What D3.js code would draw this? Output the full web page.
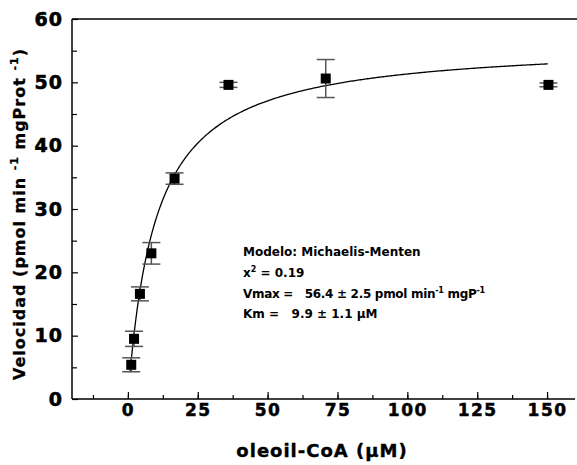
<!DOCTYPE html>
<html>
<head>
<meta charset="utf-8">
<script src="https://cdn.jsdelivr.net/npm/d3@7"></script>
<style>
  body { margin: 0; background: #fff; }
  svg text { font-family: "DejaVu Sans", Arial, sans-serif; font-weight: bold; }
</style>
</head>
<body>
<div id="chart"></div>
<script>
// datos
const conc = [1.2, 2.2, 4.3, 8.4, 16.7, 36, 70.8, 150.5];
const vel = [5.4, 9.5, 16.6, 23.0, 34.8, 49.6, 50.6, 49.6];
const err = [1.1, 1.2, 1.1, 1.7, 0.9, 0.4, 3.0, 0.3];
const xTicks = [0, 25, 50, 75, 100, 125, 150];
const yTicks = [0, 10, 20, 30, 40, 50, 60];
const vmax = 56.4, km = 9.9;

const width = 577, height = 465;
const margin = {top: 19, right: 2, bottom: 66, left: 72};

const svg = d3.select('#chart').append('svg')
    .attr('width', width)
    .attr('height', height);

const x = d3.scaleLinear().domain([-20, 160]).range([margin.left, 575]);
const y = d3.scaleLinear().domain([0, 60]).range([height - margin.bottom, margin.top]);

// marco superior
svg.append('line')
    .attr('x1', margin.left).attr('x2', width)
    .attr('y1', y(60)).attr('y2', y(60))
    .attr('stroke', '#000').attr('stroke-width', 1.5);

// eje x (ticks hacia dentro)
const gx = svg.append('g').attr('transform', `translate(0,${y(0)})`);
gx.call(d3.axisBottom(x).tickValues(d3.range(-12.5, 160, 12.5)).tickSize(-4).tickFormat(''));
gx.call(g => g.selectAll('.tick line').attr('stroke-width', 1.2));
const gx2 = svg.append('g').attr('transform', `translate(0,${y(0)})`);
gx2.call(d3.axisBottom(x).tickValues(xTicks).tickSize(-7).tickPadding(5));
gx2.selectAll('.domain').remove();
gx.select('.domain').attr('stroke-width', 1.5).attr('d', `M${x(-20)},0H575`);
gx2.selectAll('.tick line').attr('stroke-width', 1.2);
gx2.selectAll('.tick text')
    .attr('font-size', 17).attr('letter-spacing', 1.5)
    .attr('font-family', '"DejaVu Sans", sans-serif').attr('font-weight', 'bold')
    .attr('stroke', '#000').attr('stroke-width', 0.5)
    .attr('fill', '#000');

// eje y
const gy = svg.append('g').attr('transform', `translate(${margin.left},0)`);
gy.call(d3.axisLeft(y).tickValues(d3.range(5, 60, 10)).tickSize(-5).tickFormat(''));
gy.call(g => g.selectAll('.tick line').attr('stroke-width', 1.2));
gy.select('.domain').attr('stroke-width', 1.5).attr('d', `M0,${y(0)}V${y(60)}`);
const gy2 = svg.append('g').attr('transform', `translate(${margin.left},0)`);
gy2.call(d3.axisLeft(y).tickValues(yTicks).tickSize(-6).tickPadding(9));
gy2.select('.domain').remove();
gy2.selectAll('.tick line').attr('stroke-width', 1.2);
gy2.selectAll('.tick text')
    .attr('font-size', 19).attr('letter-spacing', 1)
    .attr('font-family', '"DejaVu Sans", sans-serif').attr('font-weight', 'bold')
    .attr('stroke', '#000').attr('stroke-width', 0.6)
    .attr('fill', '#000');

// titulos de ejes
svg.append('text')
    .attr('x', 322).attr('y', 457)
    .attr('text-anchor', 'middle')
    .attr('font-size', 18).attr('letter-spacing', 1)
    .attr('stroke', '#000').attr('stroke-width', 0.4)
    .text('oleoil-CoA (µM)');

const yt = svg.append('text')
    .attr('transform', 'translate(25,214) rotate(-90)')
    .attr('text-anchor', 'middle')
    .attr('font-size', 16).attr('letter-spacing', 1)
    .attr('stroke', '#000').attr('stroke-width', 0.3);
yt.append('tspan').text('Velocidad (pmol min ');
yt.append('tspan').attr('font-size', 11).attr('dy', -7).text('-1');
yt.append('tspan').attr('dy', 7).text(' mgProt ');
yt.append('tspan').attr('font-size', 11).attr('dy', -7).text('-1');
yt.append('tspan').attr('dy', 7).text(')');

// curva de Michaelis-Menten
const fit = d3.range(0.8, 150.6, 0.5).map(s => [s, vmax * s / (km + s)]);
svg.append('path')
    .datum(fit)
    .attr('fill', 'none')
    .attr('stroke', '#000')
    .attr('stroke-width', 1.3)
    .attr('d', d3.line().x(d => x(d[0])).y(d => y(d[1])));

// barras de error
const pts = conc.map((c, i) => ({c: c, v: vel[i], e: err[i]}));
const eb = svg.append('g').attr('stroke', '#555').attr('stroke-width', 1.5);
eb.selectAll('.v').data(pts).enter().append('line')
    .attr('x1', d => x(d.c)).attr('x2', d => x(d.c))
    .attr('y1', d => y(d.v - d.e)).attr('y2', d => y(d.v + d.e));
eb.selectAll('.lo').data(pts).enter().append('line')
    .attr('x1', d => x(d.c) - 9).attr('x2', d => x(d.c) + 9)
    .attr('y1', d => y(d.v - d.e)).attr('y2', d => y(d.v - d.e));
eb.selectAll('.hi').data(pts).enter().append('line')
    .attr('x1', d => x(d.c) - 9).attr('x2', d => x(d.c) + 9)
    .attr('y1', d => y(d.v + d.e)).attr('y2', d => y(d.v + d.e));

// puntos
svg.selectAll('rect.pt').data(pts).enter().append('rect')
    .attr('x', d => x(d.c) - 5).attr('y', d => y(d.v) - 5)
    .attr('width', 10).attr('height', 10)
    .attr('fill', '#000');

// anotacion del modelo
const ann = svg.append('g')
    .attr('font-size', 12);
ann.append('text').attr('x', 243).attr('y', 256).attr('font-size', 12).text('Modelo: Michaelis-Menten');
const chi = ann.append('text').attr('x', 243).attr('y', 277);
chi.append('tspan').text('x');
chi.append('tspan').attr('font-size', 8).attr('dy', -5).text('2');
chi.append('tspan').attr('dy', 5).text(' = 0.19');
const vm = ann.append('text').attr('x', 243).attr('y', 298)
    .attr('xml:space', 'preserve').attr('letter-spacing', -0.3);
vm.append('tspan').text('Vmax =   56.4 ± 2.5 pmol min');
vm.append('tspan').attr('font-size', 8).attr('dy', -5).text('-1');
vm.append('tspan').attr('dy', 5).text(' mgP');
vm.append('tspan').attr('font-size', 8).attr('dy', -5).text('-1');
ann.append('text').attr('x', 243).attr('y', 318).attr('xml:space', 'preserve')
    .text('Km =   9.9 ± 1.1 µM');
</script>
</body>
</html>
